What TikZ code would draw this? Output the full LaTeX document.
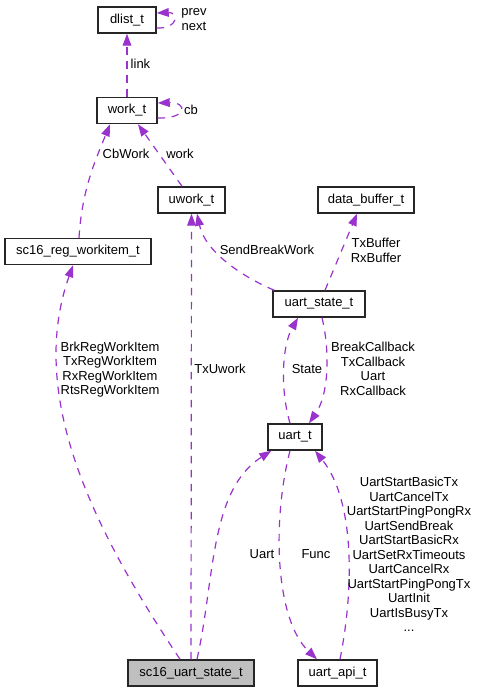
\documentclass[tikz,border=0pt]{standalone}
\usepackage{fontspec}
\setmainfont{Liberation Sans}
\usetikzlibrary{arrows.meta,calc}
\definecolor{relpurple}{HTML}{9A32CD}
\definecolor{focusgray}{HTML}{BFBFBF}

\begin{document}
\begin{tikzpicture}[x=0.75pt, y=-0.75pt,
    >={Triangle[length=9pt,width=6.5pt]},
    font=\fontsize{9.75}{10.9}\selectfont,
    cls/.style={draw=black!85, line width=1.1pt, fill=white,
      inner sep=0pt, minimum height=19.5pt},
    rel/.style={->, draw=relpurple, line width=0.9pt,
      dash pattern=on 5.5pt off 5pt},
    lbl/.style={align=center, inner sep=0pt}]
    \newcommand\kP{0.75pt}
    \fill[white] (0,0) rectangle (478,692);
    \useasboundingbox (0,0) rectangle (478,692);

    % classes
    \node[cls, minimum width=58*\kP] (dlist_t) at (127,20) {dlist\_t};
    \node[cls, minimum width=60*\kP] (work_t) at (127,110.5) {work\_t};
    \node[cls, minimum width=67*\kP] (uwork_t) at (191.5,200) {uwork\_t};
    \node[cls, minimum width=146*\kP] (reg_item) at (78,251.5)
      {sc16\_reg\_workitem\_t};
    \node[cls, minimum width=96*\kP] (data_buf) at (366,200)
      {data\_buffer\_t};
    \node[cls, minimum width=92*\kP] (uart_state) at (319,304)
      {uart\_state\_t};
    \node[cls, minimum width=54*\kP] (uart_t) at (295,437) {uart\_t};
    \node[cls, minimum width=126*\kP, fill=focusgray] (sc16_state)
      at (191,673) {sc16\_uart\_state\_t};
    \node[cls, minimum width=79*\kP] (uart_api) at (337.5,673)
      {uart\_api\_t};

    % self references
    \draw[rel]
      ($(dlist_t.east)+(0,8)$) .. controls +(22,1) and +(22,-1) ..
      ($(dlist_t.east)+(0,-7)$);
    \node[lbl] (l_prev) at (194,19.5) {prev\\next};
    \draw[rel]
      ($(work_t.east)+(0,7.5)$) .. controls +(30,1) and +(30,-1) ..
      ($(work_t.east)+(0,-7.5)$);
    \node[lbl] (l_cb) at (191,110) {cb};

    % members
    \draw[rel] (work_t.north) -- (dlist_t.south);
    \node[lbl] (l_link) at (140.5,64) {link};
    \draw[rel]
      ($(reg_item.north)+(1,0)$) .. controls +(3,-48) and +(-15,37) ..
      ($(work_t.south)+(-17,0)$);
    \node[lbl] (l_cbwork) at (126,154) {CbWork};
    \draw[rel] ($(uwork_t.north)+(-9.5,0)$) -- ($(work_t.south)+(11,0)$);
    \node[lbl] (l_work) at (180,154) {work};
    \draw[rel]
      ($(uart_state.north west)+(2,0)$) .. controls +(-35,-15) and +(8,37) ..
      ($(uwork_t.south)+(5.5,0)$);
    \node[lbl] (l_sbw) at (267,250) {SendBreakWork};
    \draw[rel] ($(uart_state.north)+(6,0)$) -- ($(data_buf.south)+(-9,0)$);
    \node[lbl] (l_buf) at (376,250.5) {TxBuffer\\RxBuffer};
    \draw[rel]
      ($(uart_t.north)+(-5,0)$) .. controls +(-10,-34) and +(-16,28) ..
      ($(uart_state.south)+(-21,0)$);
    \node[lbl] (l_state) at (307,369) {State};
    \draw[rel]
      ($(uart_state.south)+(3,0)$) .. controls +(8,33) and +(20,-29) ..
      ($(uart_t.north)+(14,0)$);
    \node[lbl] (l_cbacks) at (373,369)
      {BreakCallback\\TxCallback\\Uart\\RxCallback};
    \draw[rel]
      ($(uart_t.south)+(-5,0)$) .. controls +(-18,70) and +(-42,-40) ..
      ($(uart_api.north)+(-20.5,0)$);
    \node[lbl] (l_func) at (316,554) {Func};
    \draw[rel]
      ($(uart_api.north)+(2.5,0)$) .. controls +(14,-70) and +(40,50) ..
      ($(uart_t.south)+(20,0)$);
    \node[lbl] (l_api) at (409,554.5)
      {UartStartBasicTx\\UartCancelTx\\UartStartPingPongRx\\UartSendBreak\\
       UartStartBasicRx\\UartSetRxTimeouts\\UartCancelRx\\
       UartStartPingPongTx\\UartInit\\UartIsBusyTx\\...};
    \draw[rel]
      ($(sc16_state.north)+(6,0)$) .. controls +(18,-80) and +(-62,40) ..
      ($(uart_t.south west)+(4,0)$);
    \node[lbl] (l_uart) at (262,554) {Uart};
    \draw[rel] (sc16_state.north) -- (uwork_t.south);
    \node[lbl] (l_txuwork) at (220,369) {TxUwork};
    \draw[rel]
      ($(sc16_state.north)+(-11,0)$) .. controls +(-80,-120) and +(-48,135) ..
      ($(reg_item.south)+(-5,0)$);
    \node[lbl] (l_regs) at (110,369.5)
      {BrkRegWorkItem\\TxRegWorkItem\\RxRegWorkItem\\RtsRegWorkItem};
  \end{tikzpicture}
\end{document}
